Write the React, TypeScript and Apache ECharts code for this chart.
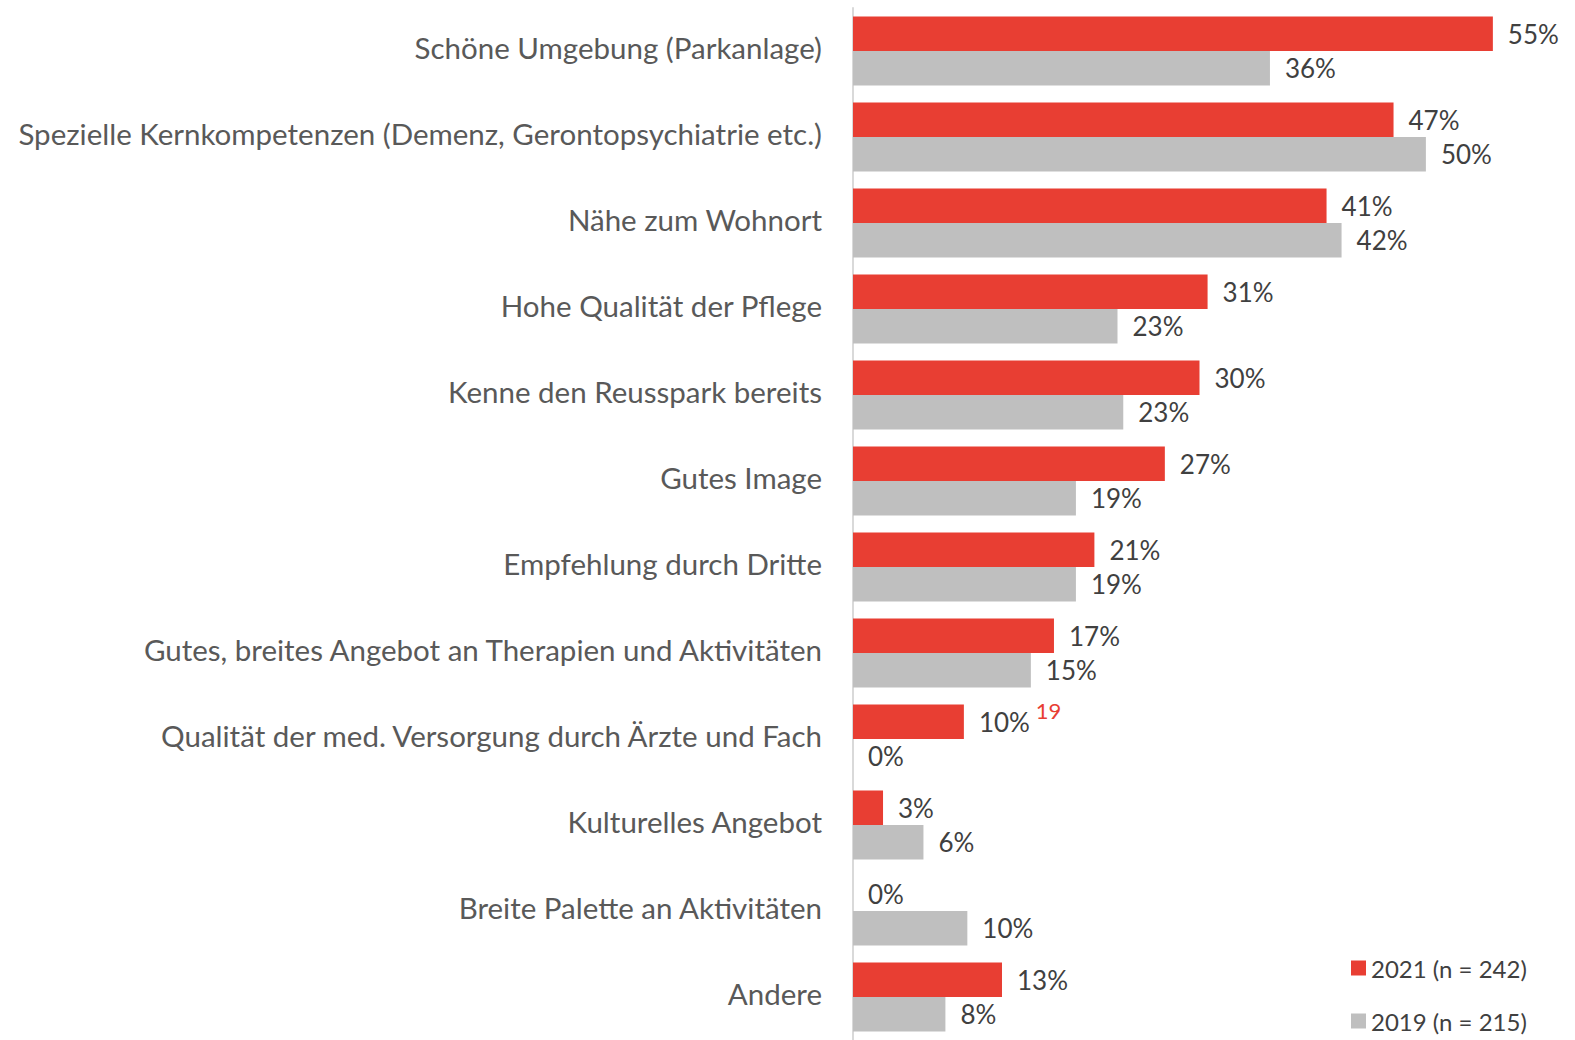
import React, { useEffect, useRef } from "react";
import * as echarts from "echarts";

const categories = [
  "Schöne Umgebung (Parkanlage)",
  "Spezielle Kernkompetenzen (Demenz, Gerontopsychiatrie etc.)",
  "Nähe zum Wohnort",
  "Hohe Qualität der Pflege",
  "Kenne den Reusspark bereits",
  "Gutes Image",
  "Empfehlung durch Dritte",
  "Gutes, breites Angebot an Therapien und Aktivitäten",
  "Qualität der med. Versorgung durch Ärzte und Fach",
  "Kulturelles Angebot",
  "Breite Palette an Aktivitäten",
  "Andere",
];

const values2021 = [55.4, 46.8, 41.0, 30.7, 30.0, 27.0, 20.9, 17.4, 9.6, 2.6, 0, 12.9];
const values2019 = [36.1, 49.6, 42.3, 22.9, 23.4, 19.3, 19.3, 15.4, 0, 6.1, 9.9, 8.0];

const seriesNames = ["2021 (n = 242)", "2019 (n = 215)"];
const noteIndex = 8;
const noteText = "19";

const FONT = "Lato, sans-serif";

export default function App() {
  const ref = useRef<HTMLDivElement>(null);
  useEffect(() => {
    if (!ref.current) return;
    const chart = echarts.init(ref.current, undefined, { renderer: "svg" });
    const labelBase = {
      show: true,
      position: "right",
      distance: 15,
      color: "#404040",
      fontSize: 26,
      fontFamily: FONT,
    };
    chart.setOption({
      animation: false,
      backgroundColor: "#ffffff",
      grid: { left: 853, top: 8, width: 693, height: 1037, containLabel: false },
      xAxis: {
        type: "value",
        min: 0,
        max: 60,
        show: false,
      },
      yAxis: {
        type: "category",
        data: categories,
        inverse: true,
        axisLine: { show: true, lineStyle: { color: "#d9d9d9", width: 2 } },
        axisTick: { show: false },
        axisLabel: {
          margin: 31,
          formatter: (v: string) => `{c|${v}}`,
          rich: {
            c: {
              color: "#595959",
              fontSize: 29.5,
              fontFamily: FONT,
              padding: [0, 0, 8, 0],
            },
          },
        },
      },
      legend: {
        orient: "vertical",
        left: 1346,
        top: 951,
        itemWidth: 15,
        itemHeight: 15,
        itemGap: 29,
        icon: "rect",
        textStyle: { color: "#404040", fontSize: 24, fontFamily: FONT },
        data: seriesNames,
      },
      series: [
        {
          name: seriesNames[0],
          type: "bar",
          data: values2021,
          barGap: "0%",
          barCategoryGap: "20%",
          itemStyle: { color: "#e83e33" },
          label: {
            ...labelBase,
            formatter: (p: any) =>
              p.dataIndex === noteIndex
                ? `${Math.round(p.value)}%{note|${noteText}}`
                : `${Math.round(p.value)}%`,
            rich: {
              note: {
                color: "#e83e33",
                fontSize: 22,
                fontFamily: FONT,
                padding: [0, 0, 22, 6],
              },
            },
          },
        },
        {
          name: seriesNames[1],
          type: "bar",
          data: values2019,
          barGap: "0%",
          barCategoryGap: "20%",
          itemStyle: { color: "#bfbfbf" },
          label: {
            ...labelBase,
            formatter: (p: any) => `${Math.round(p.value)}%`,
          },
        },
      ],
    });
    return () => chart.dispose();
  }, []);
  return (
    <div
      ref={ref}
      style={{ position: "absolute", left: 0, top: 0, width: 1575, height: 1040 }}
    />
  );
}
